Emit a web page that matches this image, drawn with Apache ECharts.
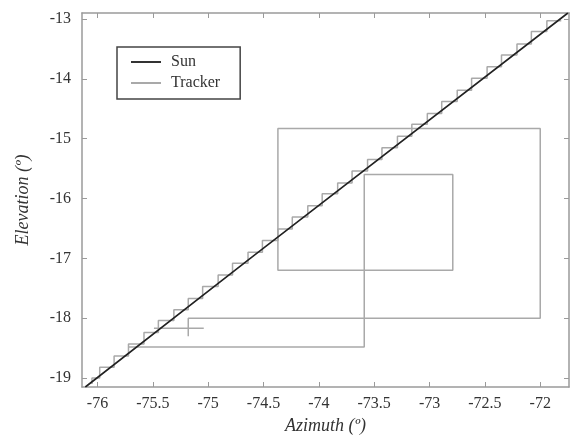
<!DOCTYPE html>
<html>
<head>
<meta charset="utf-8">
<script src="https://cdn.jsdelivr.net/npm/echarts@6/dist/echarts.min.js"></script>
<style>html,body{margin:0;padding:0;background:#fff}#c{width:571px;height:442px}</style>
</head>
<body>
<div id="c"></div>
<script>
// Tick labels
const azTicks = [-76, -75.5, -75, -74.5, -74, -73.5, -73, -72.5, -72];
const elTicks = [-19, -18, -17, -16, -15, -14, -13];

// Sun trajectory (straight line across plot)
const sunAz = [-76.11, -74.62, -71.75];
const sunEl = [-19.15, -17.0, -12.9];

// Tracker staircase corners following the sun
const stairAz = [-76.05, -75.98, -75.85, -75.72, -75.58, -75.45, -75.31, -75.18, -75.05, -74.91, -74.78,
  -74.64, -74.51, -74.37, -74.24, -74.10, -73.97, -73.83, -73.70, -73.56, -73.43, -73.29, -73.16,
  -73.02, -72.89, -72.75, -72.62, -72.48, -72.35, -72.21, -72.08, -71.94, -71.81];
const stairEl = [-19.10, -19.00, -18.82, -18.63, -18.43, -18.24, -18.04, -17.86, -17.67, -17.47, -17.28,
  -17.08, -16.90, -16.70, -16.51, -16.31, -16.12, -15.92, -15.74, -15.54, -15.35, -15.15, -14.96,
  -14.76, -14.58, -14.38, -14.19, -13.99, -13.80, -13.60, -13.42, -13.21, -13.03];

// Tracker search pattern (rectangular spiral)
const spiralAz = [-75.72, -73.59, -73.59, -72.79, -72.79, -74.37, -74.37, -72.00, -72.00, -75.18, -75.18];
const spiralEl = [-18.48, -18.48, -15.60, -15.60, -17.20, -17.20, -14.83, -14.83, -18.00, -18.00, -18.30];

// Cross marker
const crossHAz = [-75.49, -75.04];
const crossHEl = [-18.17, -18.17];

const zip = (a, b) => a.map((v, i) => [v, b[i]]);
const stairPts = [];
for (let i = 0; i < stairAz.length; i++) {
  stairPts.push([stairAz[i], stairEl[i]]);
  if (i + 1 < stairAz.length) stairPts.push([stairAz[i], stairEl[i + 1]]);
}

const serif = 'Liberation Serif';
const trackerColor = '#a9a9a9';
const axisColor = '#9a9a9a';
const xMin = -76.14, xMax = -71.74, yMin = -19.15, yMax = -12.9;

function mkX(pos, show) {
  return {
    type: 'value', position: pos, min: xMin, max: xMax,
    name: show ? 'Azimuth (º)' : '', nameLocation: 'middle', nameGap: 26,
    nameTextStyle: { fontFamily: serif, fontStyle: 'italic', fontSize: 18, color: '#333' },
    axisLine: { show: true, onZero: false, lineStyle: { color: axisColor, width: 1.5 } },
    axisTick: { show: true, inside: true, length: 5, customValues: azTicks, lineStyle: { color: axisColor } },
    axisLabel: { show: show, customValues: azTicks, margin: 9, fontFamily: serif, fontSize: 16, color: '#333' },
    splitLine: { show: false }
  };
}
function mkY(pos, show) {
  return {
    type: 'value', position: pos, min: yMin, max: yMax,
    name: show ? 'Elevation (º)' : '', nameLocation: 'middle', nameGap: 50,
    nameTextStyle: { fontFamily: serif, fontStyle: 'italic', fontSize: 18, color: '#333' },
    axisLine: { show: true, onZero: false, lineStyle: { color: axisColor, width: 1.5 } },
    axisTick: { show: true, inside: true, length: 5, customValues: elTicks, lineStyle: { color: axisColor } },
    axisLabel: { show: show, customValues: elTicks, margin: 11, fontFamily: serif, fontSize: 16, color: '#333' },
    splitLine: { show: false }
  };
}

const trackerBase = {
  type: 'line', name: 'Tracker', symbol: 'none', showSymbol: false, z: 2,
  lineStyle: { color: trackerColor, width: 1.5 }, itemStyle: { color: trackerColor },
  xAxisIndex: 0, yAxisIndex: 0, animation: false
};

const chart = echarts.init(document.getElementById('c'));
chart.setOption({
  animation: false,
  grid: { left: 82, right: 2, top: 13, bottom: 55, containLabel: false },
  xAxis: [mkX('bottom', true), mkX('top', false)],
  yAxis: [mkY('left', true), mkY('right', false)],
  legend: {
    left: 117, top: 47, orient: 'vertical',
    data: [
      { name: 'Sun', icon: 'rect', itemStyle: { color: '#333' } },
      { name: 'Tracker', icon: 'rect', itemStyle: { color: trackerColor } }
    ],
    borderColor: '#444', borderWidth: 1.5, padding: [7, 20, 8, 14],
    itemWidth: 30, itemHeight: 2, itemGap: 5,
    textStyle: { fontFamily: serif, fontSize: 16, color: '#333', padding: [0, 0, 0, 5] }
  },
  series: [
    Object.assign({}, trackerBase, { data: stairPts }),
    Object.assign({}, trackerBase, { data: zip(spiralAz, spiralEl) }),
    Object.assign({}, trackerBase, { data: zip(crossHAz, crossHEl) }),
    {
      type: 'line', name: 'Sun', symbol: 'none', showSymbol: false, z: 3,
      data: zip(sunAz, sunEl),
      lineStyle: { color: '#222', width: 1.6 }, itemStyle: { color: '#222' }
    }
  ]
});
</script>
</body>
</html>
